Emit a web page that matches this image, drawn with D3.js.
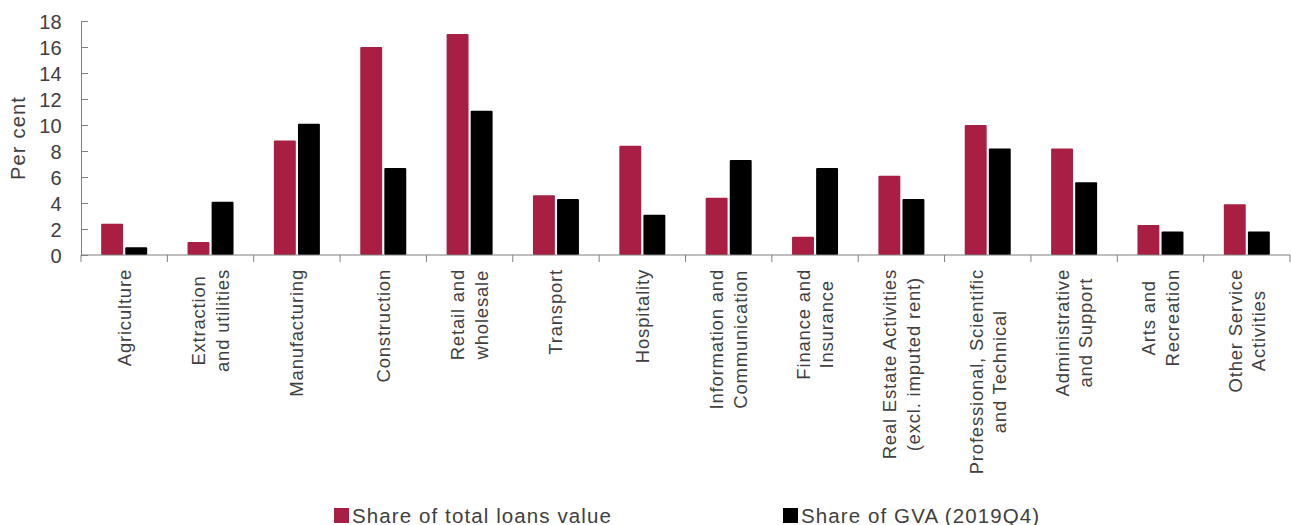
<!DOCTYPE html>
<html>
<head>
<meta charset="utf-8">
<script src="https://cdn.jsdelivr.net/npm/d3@7"></script>
<style>
  html, body { margin: 0; padding: 0; background: #fff; }
  svg { display: block; font-family: "Liberation Sans", Arial, sans-serif; }
</style>
</head>
<body>
<svg id="chart" width="1292" height="525"></svg>
<script>
// Sector labels (line breaks as drawn under the axis)
const categories = [
  ["Agriculture"],
  ["Extraction", "and utilities"],
  ["Manufacturing"],
  ["Construction"],
  ["Retail and", "wholesale"],
  ["Transport"],
  ["Hospitality"],
  ["Information and", "Communication"],
  ["Finance and", "Insurance"],
  ["Real Estate Activities", "(excl. imputed rent)"],
  ["Professional, Scientific", "and Technical"],
  ["Administrative", "and Support"],
  ["Arts and", "Recreation"],
  ["Other Service", "Activities"]
];

const seriesNames = ["Share of total loans value", "Share of GVA (2019Q4)"];
const loansShare = [2.4, 1.0, 8.8, 16.0, 17.0, 4.6, 8.4, 4.4, 1.4, 6.1, 10.0, 8.2, 2.3, 3.9];
const gvaShare   = [0.6, 4.1, 10.1, 6.7, 11.1, 4.3, 3.1, 7.3, 6.7, 4.3, 8.2, 5.6, 1.8, 1.8];
const yTicks = [0, 2, 4, 6, 8, 10, 12, 14, 16, 18];
const colors = ["#A91F44", "#000000"];

const svg = d3.select("#chart");
const plotLeft = 81, plotRight = 1290, plotTop = 21, plotBottom = 255;
const axisColor = "#7f7f7f";
const textColor = "#404040";

const keys = categories.map(c => c.join(" "));
const x0 = d3.scaleBand().domain(keys).range([plotLeft, plotRight]).padding(0);
const bw = x0.bandwidth();
const x1 = d3.scaleBand().domain([0, 1]).range([bw / 2 - 23, bw / 2 + 23]).paddingInner(0.09);
const y = d3.scaleLinear().domain([0, 18]).range([plotBottom, plotTop]);

// Bars
const groups = svg.append("g").selectAll("g")
  .data(keys.map((k, i) => ({ k, v: [loansShare[i], gvaShare[i]] })))
  .join("g")
  .attr("transform", d => `translate(${x0(d.k)},0)`);

groups.selectAll("rect")
  .data(d => d.v.map((v, s) => ({ v, s })))
  .join("rect")
  .attr("x", d => x1(d.s))
  .attr("width", x1.bandwidth())
  .attr("y", d => y(d.v))
  .attr("height", d => y(0) - y(d.v))
  .attr("rx", 1)
  .attr("fill", d => colors[d.s]);

// Y axis: ticks point inward
const yAxis = svg.append("g")
  .attr("transform", `translate(${plotLeft},0)`)
  .call(d3.axisRight(y).tickValues(yTicks).tickSize(7).tickSizeOuter(0));
yAxis.select(".domain").attr("stroke", axisColor);
yAxis.selectAll(".tick line").attr("stroke", axisColor);
yAxis.selectAll(".tick text")
  .attr("text-anchor", "end")
  .attr("x", -19)
  .attr("dy", "0.36em")
  .attr("fill", textColor)
  .style("font-size", "20px")
  .style("letter-spacing", "0.3px");

// X axis line with ticks at category boundaries
svg.append("line")
  .attr("x1", plotLeft).attr("x2", plotRight)
  .attr("y1", plotBottom).attr("y2", plotBottom)
  .attr("stroke", axisColor);
const bounds = keys.map(k => x0(k)).concat([plotRight]);
svg.append("g").selectAll("line")
  .data(bounds)
  .join("line")
  .attr("x1", d => d).attr("x2", d => d)
  .attr("y1", plotBottom).attr("y2", plotBottom + 7)
  .attr("stroke", axisColor);

// Rotated category labels, top-aligned under the axis, lines centred on each other
const labelTop = 269, lineGap = 23.5;
categories.forEach((lines, i) => {
  const cx = x0(keys[i]) + bw / 2;
  const g = svg.append("g").attr("transform", `translate(${cx},${labelTop}) rotate(-90)`);
  const t = g.append("text")
    .attr("text-anchor", "middle")
    .attr("fill", textColor)
    .style("font-size", "18.5px")
    .style("letter-spacing", "0.8px");
  const n = lines.length;
  lines.forEach((ln, j) => {
    t.append("tspan")
      .attr("x", 0)
      .attr("y", (j - (n - 1) / 2) * lineGap + 6.5)
      .text(ln);
  });
  const maxLen = d3.max(t.selectAll("tspan").nodes(), nd => nd.getComputedTextLength());
  t.selectAll("tspan").attr("x", -maxLen / 2);
});

// Y axis title
svg.append("text")
  .attr("transform", `translate(25,138) rotate(-90)`)
  .attr("text-anchor", "middle")
  .attr("fill", textColor)
  .style("font-size", "20px")
  .style("letter-spacing", "1.2px")
  .text("Per cent");

// Legend
const legendX = [334, 783];
seriesNames.forEach((name, s) => {
  const g = svg.append("g").attr("transform", `translate(${legendX[s]},508)`);
  g.append("rect").attr("width", 15).attr("height", 15).attr("fill", colors[s]);
  g.append("text")
    .attr("x", 18).attr("y", 14.5)
    .attr("fill", textColor)
    .style("font-size", "20.5px")
    .style("letter-spacing", "1.1px")
    .text(name);
});
</script>
</body>
</html>
